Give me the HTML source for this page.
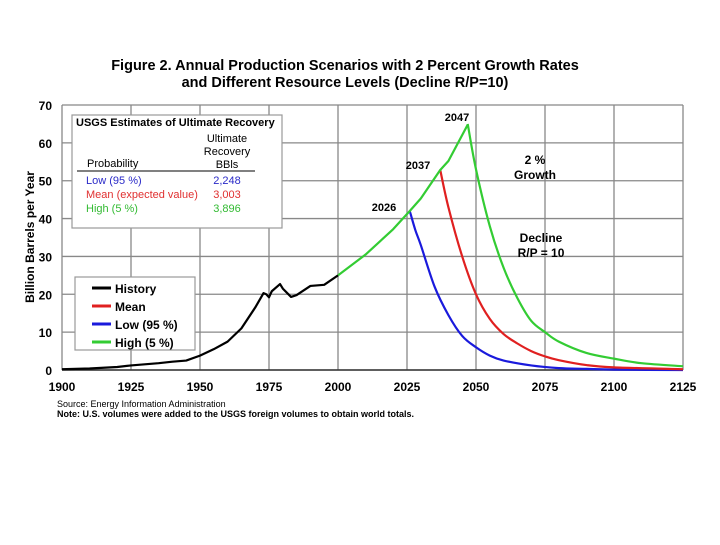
<!DOCTYPE html>
<html><head><meta charset="utf-8"><style>
body{margin:0;background:#fff;width:720px;height:540px;overflow:hidden;font-family:"Liberation Sans",Arial,sans-serif}
svg text{font-family:"Liberation Sans",Arial,sans-serif}
</style></head><body>
<svg id="c" width="720" height="540"></svg>
<script>
const histYears=[1900,1910,1920,1925,1930,1935,1940,1945,1950,1955,1960,1965,1970,1973,1974,1975,1976,1979,1980,1983,1985,1990,1995,2000];
const histVals=[0.2,0.4,0.8,1.2,1.5,1.8,2.2,2.5,3.8,5.5,7.5,11,16.5,20.3,20,19.2,20.8,22.7,21.5,19.3,19.8,22.2,22.5,25];
const growthYears=[2000,2010,2020,2026,2030,2037,2040,2047];
const growthVals=[25,30.5,37.2,42,45.3,52.8,55.2,64.8];
const lowYears=[2026,2028,2030,2035,2040,2045,2050,2055,2060,2070,2080,2090,2100,2125];
const lowVals=[42,37,33,22,14.5,9,6,3.8,2.5,1.2,0.5,0.3,0.1,0];
const meanYears=[2037,2040,2045,2050,2055,2060,2065,2070,2075,2080,2090,2100,2125];
const meanVals=[53,43,30,20,13.5,9.5,7,5,3.6,2.6,1.3,0.7,0.2];
const highYears=[2047,2050,2055,2060,2065,2070,2075,2080,2090,2100,2110,2125];
const highVals=[65,53,38,27,19,13,10,7.5,4.5,3,1.8,1];
const xTicks=[1900,1925,1950,1975,2000,2025,2050,2075,2100,2125];
const yTicks=[0,10,20,30,40,50,60,70];

const NS="http://www.w3.org/2000/svg",svg=document.getElementById('c');
const X=y=>62+(y-1900)*(683-62)/225, Y=v=>370-v*(370-105)/70;
function el(t,a,txt){const e=document.createElementNS(NS,t);for(const k in a)e.setAttribute(k,a[k]);if(txt!=null)e.textContent=txt;svg.appendChild(e);return e;}
function tx(x,y,s,o){const e=el('text',Object.assign({x:x,y:y,'font-size':13,'font-weight':'bold',fill:'#000'},o||{}),s);return e;}

let t=tx(345,70,'Figure 2.  Annual Production Scenarios with 2 Percent Growth Rates',{'text-anchor':'middle','font-size':14.5});

t=tx(345,87,'and Different Resource Levels (Decline R/P=10)',{'text-anchor':'middle','font-size':14.5});


yTicks.forEach(v=>{
  const g=el('line',{x1:62,x2:683,y1:Y(v),y2:Y(v),stroke:'#888','stroke-width':1.3});
  
  const l=tx(52,Y(v)+5,String(v),{'text-anchor':'end','font-size':12});
  
});
xTicks.forEach(v=>{
  const g=el('line',{x1:X(v),x2:X(v),y1:105,y2:370,stroke:'#888','stroke-width':1.3});
  
  const l=tx(X(v),391,String(v),{'text-anchor':'middle','font-size':12});
  
});
let ax=el('line',{x1:62,x2:683,y1:370,y2:370,stroke:'#333','stroke-width':1.5});

t=tx(0,0,'Billion Barrels per Year',{'text-anchor':'middle','font-size':12,transform:'translate(34,237) rotate(-90)'});


function smooth(pts){
  let d='M'+pts[0][0]+','+pts[0][1];
  for(let i=0;i<pts.length-1;i++){
    const p0=pts[Math.max(0,i-1)],p1=pts[i],p2=pts[i+1],p3=pts[Math.min(pts.length-1,i+2)];
    const c1=[p1[0]+(p2[0]-p0[0])/6,p1[1]+(p2[1]-p0[1])/6],c2=[p2[0]-(p3[0]-p1[0])/6,p2[1]-(p3[1]-p1[1])/6];
    d+=' C'+c1+' '+c2+' '+p2;
  }
  return d;
}
function line(ys,vs,c,name,sm){
  const pts=ys.map((y,i)=>[X(y),Y(vs[i])]);
  const p=el('path',{d:sm?smooth(pts):'M'+pts.join(' L'),fill:'none',stroke:c,'stroke-width':2.2,'stroke-linejoin':'round'});
  
}
line(lowYears,lowVals,'#1a1adc','low-series',true);
line(meanYears,meanVals,'#e02020','mean-series',true);
line(highYears,highVals,'#33cc33','high-series',true);
line(growthYears,growthVals,'#33cc33','growth-series',false);
line(histYears,histVals,'#000','history-series',false);

[['2047',457,121],['2037',418,169],['2026',384,211]].forEach(a=>{
  const l=tx(a[1],a[2],a[0],{'text-anchor':'middle','font-size':11});
  
});
[['2 %',535,164],['Growth',535,179],['Decline',541,242],['R/P = 10',541,257]].forEach(a=>{
  const l=tx(a[1],a[2],a[0],{'text-anchor':'middle','font-size':12});
  
});

let b=el('rect',{x:72,y:115,width:210,height:113,fill:'#fff',stroke:'#999','stroke-width':1.2});

t=tx(76,126,'USGS Estimates of Ultimate Recovery',{'font-size':11});
[['Ultimate',142],['Recovery',155],['BBls',168]].forEach(a=>{t=tx(227,a[1],a[0],{'text-anchor':'middle','font-size':11,'font-weight':'normal'});});
t=tx(87,167,'Probability',{'font-size':11,'font-weight':'normal'});
b=el('line',{x1:77,x2:255,y1:171,y2:171,stroke:'#000','stroke-width':1});
[['Low (95 %)','2,248','#2a2ac8',184],['Mean (expected value)','3,003','#e03030',198],['High (5 %)','3,896','#33bb33',212]].forEach(r=>{
  t=tx(86,r[3],r[0],{'font-size':11,'font-weight':'normal',fill:r[2]});
  t=tx(227,r[3],r[1],{'text-anchor':'middle','font-size':11,'font-weight':'normal',fill:r[2]});
});

b=el('rect',{x:75,y:277,width:120,height:73,fill:'#fff',stroke:'#999','stroke-width':1.2});

[['History','#000',288],['Mean','#e02020',306],['Low (95 %)','#1a1adc',324],['High (5 %)','#33cc33',342]].forEach(r=>{
  const l=el('line',{x1:92,x2:111,y1:r[2],y2:r[2],stroke:r[1],'stroke-width':3});
  
  t=tx(115,r[2]+5,r[0],{'font-size':12});
});

t=tx(57,407,'Source:  Energy Information Administration',{'font-size':9,'font-weight':'normal'});
t=tx(57,417,'Note:  U.S. volumes were added to the USGS foreign volumes to obtain world totals.',{'font-size':9});
</script>
</body></html>
